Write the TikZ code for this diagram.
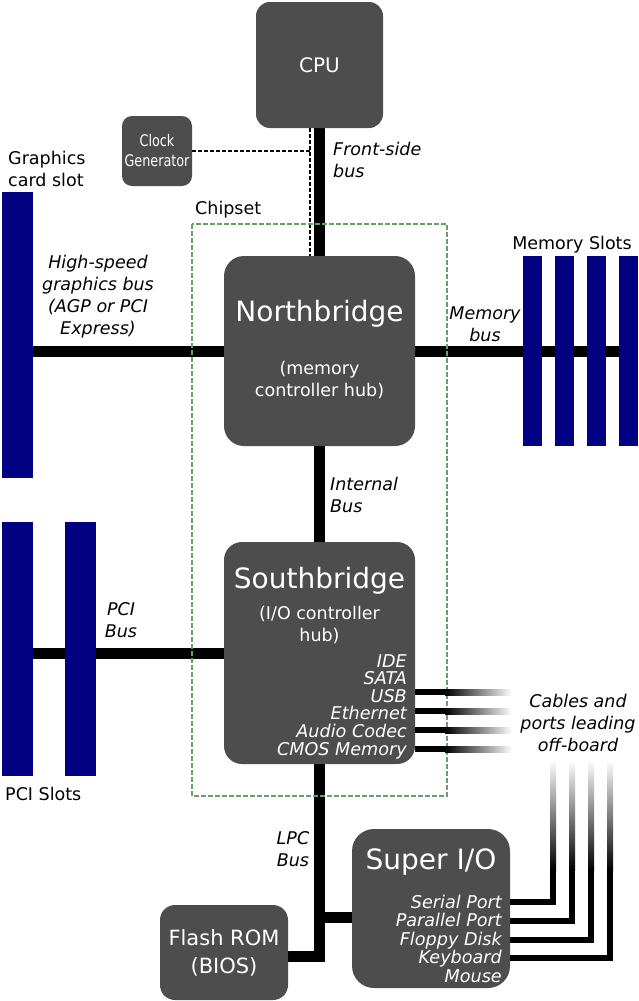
\documentclass[tikz,border=0pt]{standalone}
\usepackage{fontspec}
\setmainfont{DejaVu Sans}
\newfontfamily\condfont[FakeStretch=0.8]{DejaVu Sans}
\usetikzlibrary{calc,backgrounds}
\definecolor{boxgray}{HTML}{4D4D4D}
\definecolor{slotblue}{HTML}{000080}
\definecolor{chipgreen}{HTML}{6A9E6A}
\tikzset{
    chip/.style={fill=boxgray,text=white,inner sep=0pt,align=center},
    slot/.style={fill=slotblue,inner sep=0pt,minimum width=#1},
    bus/.style={line width=11pt},
    cable/.style={line width=6pt,line join=miter},
    clockline/.style={dashed,dash pattern=on 4pt off 2pt,line width=1.3pt},
    chipset/.style={draw=chipgreen,dash pattern=on 5pt off 2pt,line width=1.3pt},
    lbl/.style={inner sep=0pt,align=center,font=\fontsize{17.5}{22}\selectfont},
    ilbl/.style={lbl,font=\fontsize{17.5}{22}\selectfont\itshape},
    title/.style={inner sep=0pt,text=white,font=\fontsize{28}{34}\selectfont},
    sub/.style={inner sep=0pt,text=white,align=center,font=\fontsize{17.5}{21.5}\selectfont},
    ports/.style={inner sep=0pt,text=white,align=right,anchor=east,font=\fontsize{17.6}{#1}\selectfont\itshape},
  }
\begin{document}
\begin{tikzpicture}[x=1pt,y=1pt]
  \useasboundingbox (0,0) rectangle (638,-1001);
  % chips
  \node[chip,rounded corners=14pt,minimum width=127pt,minimum height=126pt,font=\fontsize{20}{24}\selectfont] (CPU) at (319.5,-65) {CPU};
  \node[chip,rounded corners=10pt,minimum width=70pt,minimum height=70pt,font=\fontsize{16}{20}\condfont] (Clock) at (157,-151) {Clock\\Generator};
  \node[chip,rounded corners=20pt,minimum width=191pt,minimum height=190pt] (NB) at (319.5,-351) {};
  \node[chip,rounded corners=18pt,minimum width=191pt,minimum height=222pt] (SB) at (319.5,-653) {};
  \node[chip,rounded corners=15pt,minimum width=128pt,minimum height=95pt,font=\fontsize{21}{28}\selectfont] (Flash) at (224,-952.5) {Flash ROM\\(BIOS)};
  \node[chip,rounded corners=22pt,minimum width=158pt,minimum height=159pt] (SIO) at (431,-908.5) {};

  % slots
  \node[slot=31pt,minimum height=286pt] (gfx) at (17.5,-335) {};
  \node[slot=31pt,minimum height=254pt] (pci0) at (17.5,-649) {};
  \node[slot=31pt,minimum height=254pt] (pci1) at (80.5,-649) {};
  \foreach \i in {0,...,3}
    \node[slot=19pt,minimum height=190pt] (mem\i) at (532.5+32*\i,-351) {};

  % buses
  \begin{pgfonlayer}{background}
    \draw[bus] (CPU.south) -- (NB.north);
    \draw[bus] (NB.west) -- (NB.west -| gfx.east);
    \draw[bus] (NB.east) -- (NB.east -| mem3.east);
    \draw[bus] (NB.south) -- (SB.north);
    \draw[bus] (SB.west) -- (SB.west -| pci0.east);
    \coordinate (rom) at ($(Flash.east)+(0,-3.5)$);
    \coordinate (lpc) at (SB.south |- rom);
    \draw[bus,line join=miter] (SB.south) -- (lpc) -- (rom);
    \coordinate (sio) at ($(SIO.west)+(0,-8.5)$);
    \draw[bus] (SB.south |- sio) -- (sio);
  \end{pgfonlayer}
  \coordinate (tap) at ($(CPU.south)+(-9.5,0)$);
  \draw[clockline] (Clock.east) -- (Clock.east -| tap);
  \draw[clockline] (tap) -- (tap |- NB.north);
  \draw[chipset] (192,-224) rectangle (447,-796);

  % cables off-board
  \foreach \y in {692,711,730,749}{
    \fill (415,-\y+3) rectangle (445,-\y-3);
    \shade[left color=black,right color=white] (445,-\y+3) rectangle (512,-\y-3);
  }
  \foreach \x/\y in {553/902,572/921,591/940,610/958}{
    \draw[cable] (510,-\y) -- (\x,-\y) -- (\x,-870);
    \shade[top color=white,bottom color=black] (\x-3,-760) rectangle (\x+3,-870);
  }

  % texts in chips
  \node[title] (NBt) at (319.5,-313.5) {Northbridge};
  \node[sub] (NBs) at (319.5,-380) {(memory\\controller hub)};
  \node[title] (SBt) at (319.5,-580.5) {Southbridge};
  \node[sub] (SBs) at (319.5,-625) {(I/O controller\\hub)};
  \node[ports=17.6] (SBp) at (407,-706.5) {IDE\\SATA\\USB\\Ethernet\\Audio Codec\\CMOS Memory};
  \node[title] (SIOt) at (431,-862.5) {Super I/O};
  \node[ports=18.5] (SIOp) at (502,-938.5) {Serial Port\\Parallel Port\\Floppy Disk\\Keyboard\\Mouse};

  % labels
  \node[ilbl,align=left,anchor=west] (fsb) at (333,-160) {Front-side\\bus};
  \node[lbl,align=left,anchor=west] (gfxl) at (8,-169) {Graphics\\card slot};
  \node[lbl,anchor=west] (chipl) at (195,-210) {Chipset};
  \node[ilbl] (agp) at (98,-297) {High-speed\\graphics bus\\(AGP or PCI\\Express)};
  \node[ilbl] (memb) at (485,-324) {Memory\\bus};
  \node[lbl] (meml) at (572,-245) {Memory Slots};
  \node[ilbl,align=left,anchor=west] (intb) at (330,-495) {Internal\\Bus};
  \node[ilbl] (pcib) at (121,-620) {PCI\\Bus};
  \node[lbl,anchor=west] (pcil) at (5,-794) {PCI Slots};
  \node[ilbl] (offb) at (578,-723) {Cables and\\ports leading\\off-board};
  \node[ilbl] (lpcb) at (293,-849) {LPC\\Bus};
\end{tikzpicture}
\end{document}
